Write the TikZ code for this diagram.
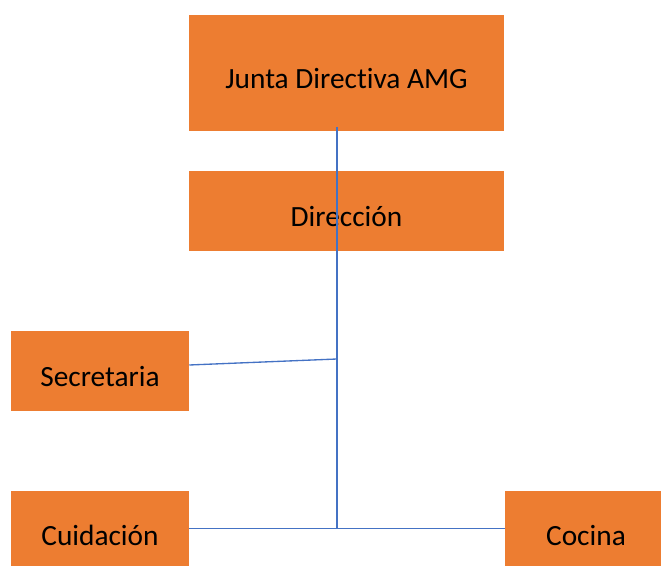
\documentclass[tikz,border=0pt]{standalone}
\usepackage{fontspec}
\setmainfont{Carlito}[Ligatures=NoCommon]
\definecolor{boxorange}{HTML}{ED7D31}
\definecolor{lineblue}{HTML}{4472C4}
\newcommand{\lowtext}[2][3.8pt]{\raisebox{-#1}[\height][\depth]{#2}}
\begin{document}
\begin{tikzpicture}[x=0.75pt,y=-0.75pt,
    orgbox/.style={fill=boxorange, draw=none, inner sep=0pt,
      font=\fontsize{22}{26}\selectfont, text=black},
    link/.style={draw=lineblue, line width=1pt}]
    \useasboundingbox (0,0) rectangle (661,566);
    \def\trunkX{337}

    \node[orgbox, minimum width=315*0.75pt, minimum height=116*0.75pt] (junta) at (346.5,73) {\lowtext{Junta Directiva AMG}};
    \node[orgbox, minimum width=315*0.75pt, minimum height=80*0.75pt] (direccion) at (346.5,211) {\lowtext{Dirección}};
    \node[orgbox, minimum width=178*0.75pt, minimum height=80*0.75pt] (secretaria) at (100,371) {\lowtext{Secretaria}};
    \node[orgbox, minimum width=178*0.75pt, minimum height=75*0.75pt] (cuidacion) at (100,528.5) {\lowtext[5.5pt]{Cuidación}};
    \node[orgbox, minimum width=156*0.75pt, minimum height=75*0.75pt] (cocina) at (583,528.5) {\lowtext[5.5pt]{\hspace*{4.5pt}Cocina}};

    \coordinate (trunktop) at (\trunkX,127);
    \coordinate (trunkmid) at (\trunkX,359);
    \coordinate (trunkbot) at (\trunkX,528.5);

    \draw[link] (trunktop) -- (trunkbot);
    \draw[link] ([yshift=4.5pt]secretaria.east) -- (trunkmid);
    \draw[link] (cuidacion.east) -- (cocina.west);
  \end{tikzpicture}
\end{document}
